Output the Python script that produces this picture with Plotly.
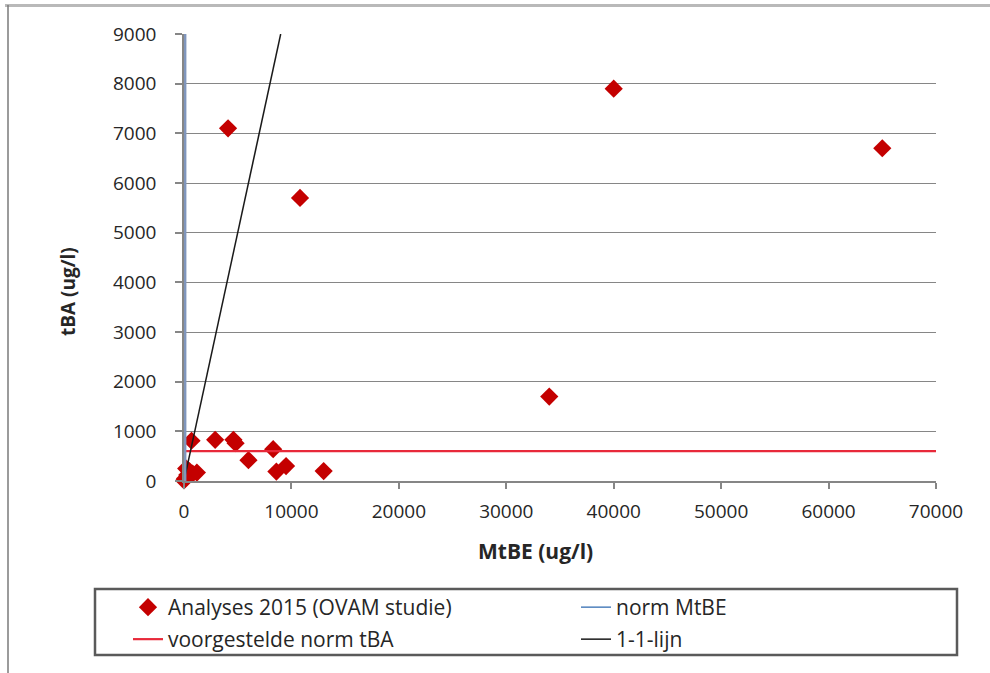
import plotly.graph_objects as go

# MtBE vs tBA concentrations (ug/l), Analyses 2015 (OVAM studie)
mtbe = [0, 100, 300, 500, 800, 1200, 200, 700, 2900, 4600, 4800, 6000,
        8300, 8600, 9500, 13000, 4100, 10800, 34000, 40000, 65000]
tba = [10, 50, 120, 200, 150, 170, 250, 810, 830, 830, 760, 420,
       640, 190, 300, 200, 7100, 5700, 1700, 7900, 6700]

# reference lines
norm_mtbe_x = [15, 15]
norm_mtbe_y = [0, 9000]
norm_tba_x = [0, 70000]
norm_tba_y = [600, 600]
one_one_x = [0, 9000]
one_one_y = [0, 9000]

x_ticks = [0, 10000, 20000, 30000, 40000, 50000, 60000, 70000]
y_ticks = [0, 1000, 2000, 3000, 4000, 5000, 6000, 7000, 8000, 9000]

FONT = "Open Sans"
W, H = 990, 673
L, R, T, B = 184, 54, 34, 192
PW, PH = W - L - R, H - T - B


def px(xpix):
    return (xpix - L) / PW


def py(ypix):
    return (H - B - ypix) / PH


fig = go.Figure()

fig.add_trace(go.Scatter(
    x=mtbe, y=tba, mode="markers", name="Analyses 2015 (OVAM studie)",
    marker=dict(symbol="diamond", size=14, color="#c40000", line=dict(width=0)),
    cliponaxis=False, legend="legend", legendwidth=403,
))
fig.add_trace(go.Scatter(
    x=norm_mtbe_x, y=norm_mtbe_y, mode="lines", name="norm MtBE",
    line=dict(color="#4f81bd", width=1.5), legend="legend",
))
fig.add_trace(go.Scatter(
    x=norm_tba_x, y=norm_tba_y, mode="lines", name="voorgestelde norm tBA",
    line=dict(color="#e8293a", width=2.2), legend="legend2", legendwidth=403,
))
fig.add_trace(go.Scatter(
    x=one_one_x, y=one_one_y, mode="lines", name="1-1-lijn",
    line=dict(color="#1a1a1a", width=1.5), legend="legend2",
))
# wide stroke of the MtBE norm line along the y axis
fig.add_trace(go.Scatter(
    x=norm_mtbe_x, y=norm_mtbe_y, mode="lines", showlegend=False,
    line=dict(color="#8096bd", width=4.5), hoverinfo="skip",
))

legend_common = dict(
    orientation="h", xanchor="left", yanchor="top",
    bgcolor="rgba(0,0,0,0)", borderwidth=0,
    font=dict(family=FONT, size=21, color="#262626"),
    itemclick=False,
)

fig.update_layout(
    width=W, height=H,
    margin=dict(l=L, r=R, t=T, b=B, pad=0, autoexpand=False),
    paper_bgcolor="white", plot_bgcolor="white",
    font=dict(family=FONT, size=19, color="#262626"),
    showlegend=True,
    legend=dict(x=px(128), y=py(587), **legend_common),
    legend2=dict(x=px(128), y=py(619), **legend_common),
    xaxis=dict(
        range=[0, 70000], tickvals=x_ticks, tickformat="d",
        showgrid=False, zeroline=False,
        showline=True, linecolor="#868686", linewidth=1.5,
        ticks="outside", ticklen=6, tickcolor="#868686", tickwidth=1.5,
        tickfont=dict(family=FONT, size=19, color="#262626"),
        ticklabelstandoff=6,
    ),
    yaxis=dict(
        range=[0, 9000], tickvals=y_ticks, tickformat="d",
        showgrid=True, gridcolor="#868686", gridwidth=1.3,
        zeroline=False,
        showline=True, linecolor="#868686", linewidth=1.5,
        ticks="outside", ticklen=7, tickcolor="#868686", tickwidth=1.5,
        tickfont=dict(family=FONT, size=19, color="#262626"),
        ticklabelstandoff=15,
    ),
    annotations=[
        dict(text="<b>MtBE (ug/l)</b>", xref="paper", yref="paper",
             x=px(535.5), y=py(551), xanchor="center", yanchor="middle",
             showarrow=False, font=dict(family=FONT, size=21, color="#262626")),
        dict(text="<b>tBA (ug/l)</b>", xref="paper", yref="paper",
             x=px(68), y=py(292), xanchor="center", yanchor="middle",
             textangle=-90, showarrow=False,
             font=dict(family=FONT, size=19, color="#262626")),
    ],
    shapes=[
        # outer chart frame
        dict(type="line", xref="paper", yref="paper",
             x0=px(5), x1=px(990), y0=py(5.5), y1=py(5.5),
             line=dict(color="#b9b9b9", width=3)),
        dict(type="line", xref="paper", yref="paper",
             x0=px(8), x1=px(8), y0=py(5), y1=py(673),
             line=dict(color="#7a7a7a", width=1.5)),
        # legend box
        dict(type="rect", xref="paper", yref="paper",
             x0=px(95), x1=px(957), y0=py(655), y1=py(589),
             line=dict(color="#5a5a5a", width=2.5), fillcolor="rgba(0,0,0,0)"),
    ],
)

fig.write_html("out.html")
